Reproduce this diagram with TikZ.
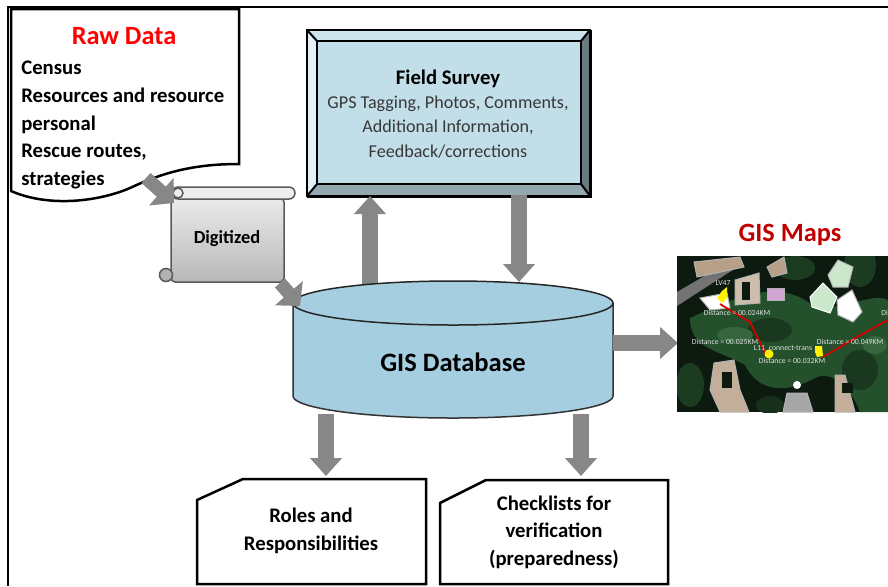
\documentclass[tikz,border=0pt]{standalone}
\usepackage{fontspec}
\setmainfont{Carlito}
\usetikzlibrary{arrows.meta}
\definecolor{dbblue}{HTML}{A5CEE0}
\definecolor{surveyblue}{HTML}{C2DEE8}
\definecolor{mapdark}{HTML}{0D1A10}
\definecolor{mapgreen}{HTML}{24502C}
\definecolor{maplight}{HTML}{35663C}
\definecolor{maptan}{HTML}{B8A088}
\tikzset{
  bigarrow/.style={line width=0.32cm, draw=black!47, -{Triangle[width=0.62cm,length=0.36cm]}},
  diagarrow/.style={line width=0.27cm, draw=black!47, -{Triangle[width=0.72cm,length=0.34cm]}},
  docline/.style={draw=black, line width=0.05cm, line join=miter},
  doctext/.style={font=\fontsize{11.8}{15.7}\selectfont\bfseries, align=center, text=black},
  maplabel/.style={font=\fontsize{4.4}{5}\selectfont, text=white!88!black, inner sep=0pt},
  building/.style={fill=#1, draw=white!70!black, line width=0.02cm}
}
\begin{document}
\begin{tikzpicture}[x=0.02cm, y=-0.02cm]
\useasboundingbox (0,0) rectangle (888,586);

% Outer frame, only top and left are visible
\draw[line width=0.05cm] (8,586) -- (8,7) -- (888,7);

% Raw data sheet
\draw[docline, fill=white] (11,9) -- (239,9) -- (239,164)
  .. controls (190,164) and (160,174) .. (130,188)
  .. controls (100,201) and (50,208) .. (11,191) -- cycle;
\node (rawTitle) at (124,36) {\fontsize{15}{18}\selectfont\bfseries\color{red} Raw Data};
\node (rawText) [doctext, align=left, anchor=north west, inner sep=0pt] at (21,61)
  {Census\\Resources and resource\\personal\\Rescue routes,\\strategies};

% Digitized scroll
\draw[draw=black!65, line width=0.03cm, top color=black!8, bottom color=black!28, rounded corners=0.08cm]
  (171,198) -- (284,198) -- (284,282) -- (171,282) -- cycle;
\draw[draw=black!65, line width=0.03cm, fill=black!7, rounded corners=0.12cm]
  (172,187) rectangle (295,199);
\draw[draw=black!65, line width=0.03cm, fill=black!7] (178,193) circle (5);
\draw[draw=black!65, line width=0.03cm, fill=black!30] (166,275) circle (6.5);
\node (digitized) [doctext, font=\fontsize{10.5}{13}\selectfont\bfseries] at (227,239) {Digitized};

% Field survey box
\node (survey) [rectangle, draw=black, line width=0.05cm, fill=surveyblue, minimum width=5.66cm, minimum height=3.32cm, anchor=north west, inner sep=0pt] at (307,30) {};
\fill[surveyblue!80!white] (307,30) -- (590,30) -- (581,41) -- (317,41) -- cycle;
\fill[surveyblue!45!white] (307,30) -- (317,41) -- (317,184) -- (307,196) -- cycle;
\fill[black!45!surveyblue] (590,30) -- (581,41) -- (581,184) -- (590,196) -- cycle;
\fill[black!25!surveyblue] (307,196) -- (317,184) -- (581,184) -- (590,196) -- cycle;
\draw[line width=0.05cm] (307,30) rectangle (590,196);
\draw[line width=0.04cm] (317,41) rectangle (581,184);
\draw[line width=0.04cm] (307,30) -- (317,41) (590,30) -- (581,41) (307,196) -- (317,184) (590,196) -- (581,184);
\node (surveyTitle) [doctext] at (448,79) {Field Survey};
\node (surveyText) [align=center, text=black!78, font=\fontsize{10.3}{14}\selectfont] at (448,127)
  {GPS Tagging, Photos, Comments,\\Additional Information,\\Feedback/corrections};

% Named ends for the block arrows
\coordinate (rawOut) at (146,178);
\coordinate (digIn) at (174,203);
\coordinate (digOut) at (280,283);
\coordinate (dbIn) at (300,306);
\coordinate (dbUp) at (370,284);
\coordinate (surveyIn) at (370,196);
\coordinate (surveyOut) at (519,195);
\coordinate (dbDown) at (519,282);
\coordinate (dbRight) at (613,343);
\coordinate (mapIn) at (678,343);
\coordinate (dbLeftOut) at (326,414);
\coordinate (rolesIn) at (326,476);
\coordinate (dbRightOut) at (581,414);
\coordinate (checkIn) at (581,476);

\draw[diagarrow] (rawOut) -- (digIn);
\draw[bigarrow] (dbUp) -- (surveyIn);

% GIS database cylinder
\draw[draw=black!80, line width=0.03cm, fill=dbblue] (293,303) -- (293,396)
  arc[start angle=180, end angle=0, x radius=160, y radius=22] -- (613,303);
\draw[draw=black!85, line width=0.03cm, fill=dbblue] (453,303) ellipse [x radius=160, y radius=22];
\node (database) [font=\fontsize{15.1}{20}\selectfont\bfseries, text=black] at (453,362) {GIS Database};

\draw[diagarrow] (digOut) -- (dbIn);
\draw[bigarrow] (surveyOut) -- (dbDown);
\draw[bigarrow] (dbRight) -- (mapIn);
\draw[bigarrow] (dbLeftOut) -- (rolesIn);
\draw[bigarrow] (dbRightOut) -- (checkIn);

% GIS map picture
\node (mapTitle) at (790,235) {\fontsize{15}{18}\selectfont\bfseries\color[HTML]{C00000} GIS Maps};
\begin{scope}
\clip (677,256) rectangle (888,412);
\fill[mapdark] (677,256) rectangle (888,412);
\fill[mapgreen] (690,318) .. controls (730,300) and (770,280) .. (805,300)
  .. controls (830,320) and (870,290) .. (888,300) -- (888,412) -- (860,412)
  .. controls (850,385) and (830,370) .. (815,378)
  .. controls (790,392) and (760,395) .. (745,365)
  .. controls (720,350) and (690,350) .. cycle;
\fill[mapgreen!70!black] (770,330) ellipse (22 and 12);
\fill[maplight] (735,335) ellipse (18 and 8);
\fill[mapgreen!70!black] (860,370) ellipse (18 and 20);
\fill[maplight] (875,345) ellipse (12 and 9);
\fill[mapgreen!75!black] (860,265) ellipse (16 and 22);
\fill[mapgreen!75!black] (795,268) ellipse (20 and 12);
\fill[mapgreen!75!black] (690,385) ellipse (14 and 22);
\fill[mapgreen!60!black] (770,405) ellipse (14 and 9);
\fill[black!55] (677,292) -- (735,258) -- (742,264) -- (677,306) -- cycle;
\fill[building=maptan] (694,262) -- (740,257) -- (744,267) -- (697,277) -- cycle;
\fill[building=white] (700,298) -- (727,293) -- (730,308) -- (710,310) -- cycle;
\draw[building=maptan!70!white] (735,280) -- (759,273) -- (760,303) -- (735,305) -- cycle;
\fill[mapdark] (742,282) rectangle (750,300);
\draw[building=violet!35!white] (767,288) rectangle (784,300);
\draw[building=maptan] (767,267) -- (784,257) -- (787,273) -- (772,277) -- cycle;
\draw[building=maptan!85!white] (714,363) -- (734,360) -- (740,390) -- (749,412) -- (720,412) -- (710,390) -- cycle;
\fill[mapdark] (722,372) rectangle (732,388);
\draw[building=black!45!green!20!white, draw=white] (810,297) -- (823,283) -- (837,297) -- (830,313) -- (812,307) -- cycle;
\draw[building=white] (837,300) -- (852,290) -- (862,312) -- (853,322) -- (838,315) -- cycle;
\draw[building=black!45!green!20!white] (828,275) -- (838,260) -- (853,267) -- (848,287) -- (833,287) -- cycle;
\draw[building=maptan!85!white] (835,375) -- (845,375) -- (855,412) -- (835,412) -- cycle;
\fill[mapdark] (842,383) rectangle (853,393);
\draw[building=black!35] (787,393) -- (807,393) -- (813,412) -- (783,412) -- cycle;
\fill[white] (797,385) circle (4);
% Routes and pins
\draw[red!85!black, line width=0.035cm] (720,304) -- (750,322) -- (767,357);
\draw[red!85!black, line width=0.035cm] (823,357) -- (857,337) -- (888,320);
\fill[yellow] (722,291) -- (727,287) -- (727,298) -- (722,303) -- (717,298) -- cycle;
\fill[yellow] (769,354) circle (4.5);
\fill[yellow] (815,346) -- (822,346) -- (823,356) -- (817,357) -- (815,352) -- cycle;
\node (pinName) [maplabel] at (723,283) {LV47};
\node (distA) [maplabel] at (737,313) {Distance = 00.024KM};
\node (distB) [maplabel] at (725,342) {Distance = 00.025KM};
\node (transName) [maplabel] at (783,349) {L11\_connect-trans};
\node (distC) [maplabel] at (850,342) {Distance = 00.049KM};
\node (distD) [maplabel] at (792,361) {Distance = 00.032KM};
\node (distE) [maplabel, anchor=west] at (881,313) {Di};
\end{scope}

% Lower sheets
\draw[docline, fill=white] (197,500) -- (243,479) -- (426,479) -- (426,584) -- (197,584) -- cycle;
\node (roles) [doctext] at (311,531) {Roles and\\Responsibilities};
\draw[docline, fill=white] (440,503) -- (486,480) -- (668,480) -- (668,584) -- (440,584) -- cycle;
\node (checklists) [doctext] at (554,532) {Checklists for\\verification\\(preparedness)};
\end{tikzpicture}
\end{document}
